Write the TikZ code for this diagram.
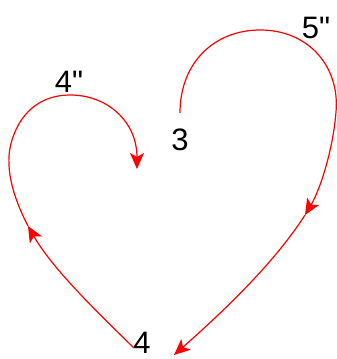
\documentclass[tikz,border=0pt]{standalone}
\usepackage{fontspec}
\newfontfamily\labfont{Liberation Sans}
\usetikzlibrary{arrows.meta}
\begin{document}
\begin{tikzpicture}[x=1pt,y=-1pt,
  lbl/.style={inner sep=0pt,font=\labfont\fontsize{31}{36}\selectfont},
  edge/.style={draw=red,line width=1.2pt},
  tip/.style={-{Stealth[length=16pt,width=14pt,inset=4pt]}}]
\useasboundingbox (0,0) rectangle (337,359);
\node[lbl] (n3) at (180,140) {3};
\node[lbl] (n4) at (142,343) {4};
\node[lbl] (l5) at (316,28) {5\symbol{34}};
\node[lbl] (l4) at (69,82) {4\symbol{34}};
\coordinate (s3) at (180,113);
\coordinate (m1) at (305,215);
\coordinate (e1) at (174,355);
\coordinate (s4) at (134,348);
\coordinate (m2) at (28,226);
\coordinate (e2) at (137,169);
% curve 3 -> 4
\draw[edge,tip] (s3) .. controls (180,62) and (215,30) .. (260,30)
  .. controls (310,30) and (340,68) .. (336,112)
  .. controls (333,150) and (320,190) .. (m1);
\draw[edge,tip] (m1) .. controls (275,262) and (225,310) .. (e1);
% curve 4 -> loop
\draw[edge,tip] (s4) .. controls (95,310) and (52,268) .. (m2);
\draw[edge,tip] (m2) .. controls (12,195) and (4,165) .. (12,140)
  .. controls (22,108) and (45,95) .. (70,95)
  .. controls (108,95) and (137,122) .. (e2);
\end{tikzpicture}
\end{document}
